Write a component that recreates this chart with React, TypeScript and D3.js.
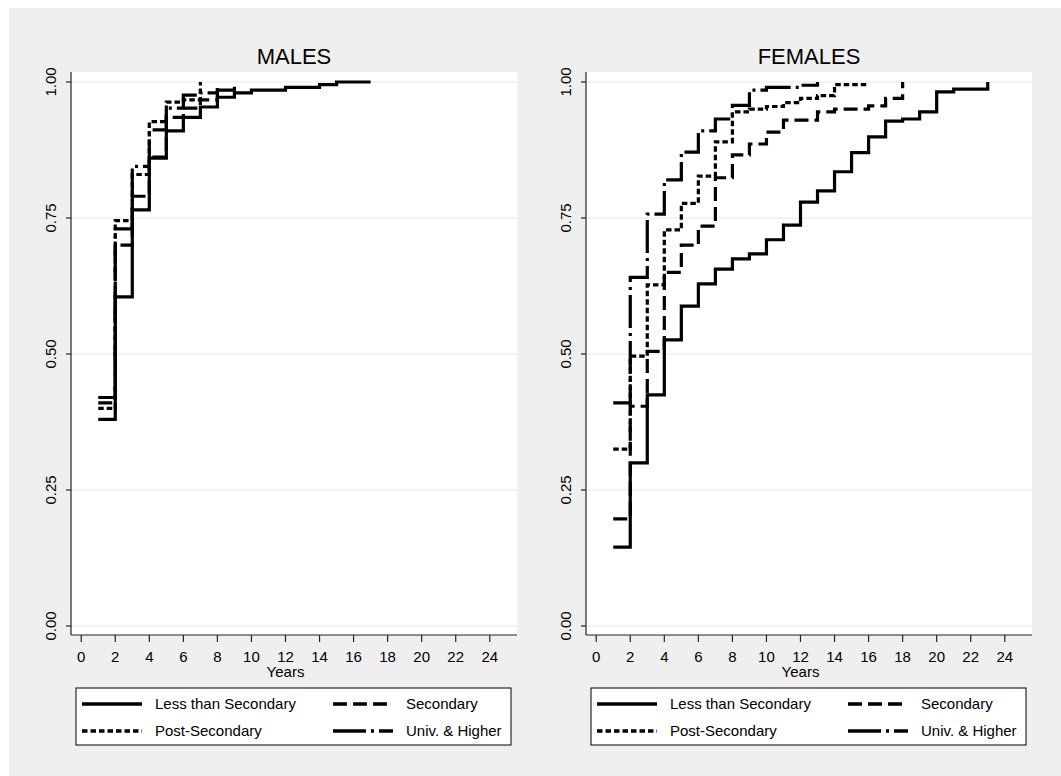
import React from 'react';
import * as d3 from 'd3';

// cumulative proportion by years: [year, value]
const maleLess = [[1, 0.38], [2, 0.605], [3, 0.765], [4, 0.86], [5, 0.91], [6, 0.935], [7, 0.954], [8, 0.972], [9, 0.98], [10, 0.985], [12, 0.99], [14, 0.995], [15, 1.0], [17, 1.0]];
const maleSecondary = [[1, 0.41], [2, 0.70], [3, 0.79], [4, 0.862], [5, 0.935], [6, 0.952], [7, 0.967], [8, 1.0]];
const malePost = [[1, 0.40], [2, 0.745], [3, 0.83], [4, 0.927], [5, 0.963], [6, 0.967], [7, 1.0]];
const maleUniv = [[1, 0.42], [2, 0.73], [3, 0.845], [4, 0.912], [5, 0.952], [6, 0.976], [7, 0.98], [8, 0.985], [9, 1.0]];

const femaleLess = [[1, 0.145], [2, 0.30], [3, 0.425], [4, 0.526], [5, 0.588], [6, 0.629], [7, 0.656], [8, 0.675], [9, 0.684], [10, 0.71], [11, 0.737], [12, 0.779], [13, 0.80], [14, 0.835], [15, 0.87], [16, 0.899], [17, 0.928], [18, 0.932], [19, 0.945], [20, 0.982], [21, 0.987], [23, 1.0]];
const femaleSecondary = [[1, 0.197], [2, 0.404], [3, 0.505], [4, 0.65], [5, 0.70], [6, 0.735], [7, 0.824], [8, 0.866], [9, 0.886], [10, 0.908], [11, 0.93], [13, 0.945], [14, 0.95], [16, 0.956], [17, 0.97], [18, 1.0]];
const femalePost = [[1, 0.325], [2, 0.496], [3, 0.627], [4, 0.728], [5, 0.777], [6, 0.827], [7, 0.89], [8, 0.945], [9, 0.95], [10, 0.955], [11, 0.962], [12, 0.97], [13, 0.975], [14, 0.995], [16, 0.995]];
const femaleUniv = [[1, 0.41], [2, 0.641], [3, 0.757], [4, 0.82], [5, 0.871], [6, 0.91], [7, 0.932], [8, 0.957], [9, 0.985], [10, 0.99], [12, 0.994], [13, 1.0]];

const groups = ['Less than Secondary', 'Secondary', 'Post-Secondary', 'Univ. & Higher'];
const xTicks = [0, 2, 4, 6, 8, 10, 12, 14, 16, 18, 20, 22, 24];
const yTicks = [0, 0.25, 0.5, 0.75, 1];

const dashes = ['none', '14 6', '5.5 3', '33 5 3 5'];
const FONT = 'Liberation Sans, Arial, sans-serif';

const Panel = ({ left, title, series }: { left: number; title: string; series: number[][][] }) => {
  const x = d3.scaleLinear().domain([-0.6, 25.6]).range([left, left + 446]);
  const y = d3.scaleLinear().domain([-0.01654, 1.01838]).range([635, 72]);
  const line = d3.line<number[]>()
    .x(d => x(d[0]))
    .y(d => y(d[1]))
    .curve(d3.curveStepAfter);

  const lx = left + 5;
  const rows = [[0, 1], [2, 3]];

  return (
    <g>
      <text x={(x.range()[0] + x.range()[1]) / 2} y={64} textAnchor="middle" fontSize={22} fontFamily={FONT}>{title}</text>
      <rect x={left} y={72} width={446} height={563} fill="#fff" />
      {yTicks.map(t => (
        <line key={'g' + t} x1={left} x2={left + 446} y1={y(t)} y2={y(t)} stroke="#e6e6e6" strokeWidth={1} />
      ))}
      {series.map((s, i) => (
        <path key={i} d={line(s) || ''} fill="none" stroke="#000" strokeWidth={3.2}
          strokeDasharray={dashes[i]} />
      ))}
      <line x1={left} x2={left} y1={72} y2={635} stroke="#222" strokeWidth={1.2} />
      <line x1={left} x2={left + 446} y1={635} y2={635} stroke="#222" strokeWidth={1.2} />
      {yTicks.map(t => (
        <g key={'y' + t}>
          <line x1={left - 5} x2={left} y1={y(t)} y2={y(t)} stroke="#222" strokeWidth={1.2} />
          <text transform={`translate(${left - 15},${y(t)}) rotate(-90)`} textAnchor="middle"
            fontSize={15} fontFamily={FONT}>{t.toFixed(2)}</text>
        </g>
      ))}
      {xTicks.map(t => (
        <g key={'x' + t}>
          <line x1={x(t)} x2={x(t)} y1={635} y2={642} stroke="#222" strokeWidth={1.2} />
          <text x={x(t)} y={662} textAnchor="middle" fontSize={15} fontFamily={FONT}>{t}</text>
        </g>
      ))}
      <text x={x(12)} y={677} textAnchor="middle" fontSize={15} fontFamily={FONT}>Years</text>

      <rect x={lx} y={688} width={435} height={57} fill="#fff" stroke="#000" strokeWidth={1} />
      {rows.map((r, ri) => r.map((gi, ci) => {
        const yy = 704 + ri * 27;
        const sx = lx + 6 + ci * 251;
        return (
          <g key={gi}>
            <line x1={sx} x2={sx + 60} y1={yy} y2={yy} stroke="#000" strokeWidth={3.4} strokeDasharray={dashes[gi]} />
            <text x={sx + 73} y={yy + 5} fontSize={15} fontFamily={FONT}>{groups[gi]}</text>
          </g>
        );
      }))}
    </g>
  );
};

const App = () => {
  return (
    <div style={{ position: 'absolute', left: 0, top: 0, width: 1061, height: 776, overflow: 'hidden', background: '#fff' }}>
      <svg width={1061} height={776} style={{ display: 'block' }}>
        <rect x={9} y={8} width={1052} height={768} fill="#efefef" />
        <Panel left={71} title="MALES" series={[maleLess, maleSecondary, malePost, maleUniv]} />
        <Panel left={586} title="FEMALES" series={[femaleLess, femaleSecondary, femalePost, femaleUniv]} />
      </svg>
    </div>
  );
};

export default App;
